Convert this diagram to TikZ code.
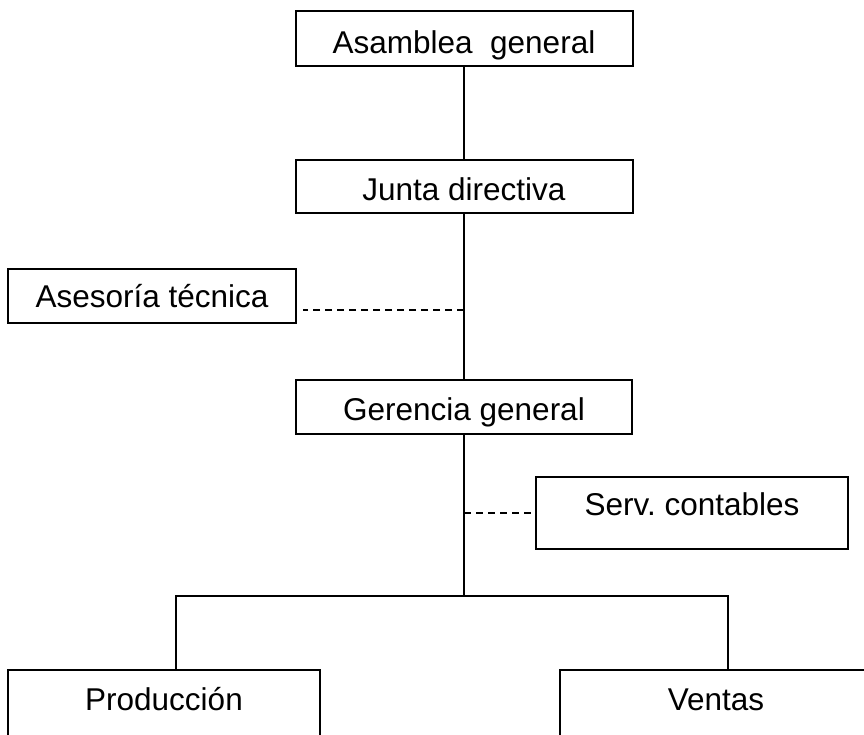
\documentclass[tikz,border=0pt]{standalone}
\usepackage{fontspec}
\setmainfont{Liberation Sans}
\usetikzlibrary{calc}
\tikzset{%
	caja/.style     = {draw, rectangle, line width=2pt, inner sep=0pt, text depth=0pt, text centered, font=\fontsize{31.5}{36}\selectfont},
	linea/.style    = {line width=2pt},
	punteada/.style = {line width=1.5pt, dash pattern=on 7pt off 5pt},
}
\begin{document}
\begin{tikzpicture}[x=1pt,y=-1pt]
	\clip (0,0) rectangle (864,734);
	\fill[white] (0,0) rectangle (864,734);
	
	\node[caja, minimum width=337pt, minimum height=55pt, text height=29pt] (asamblea) at (464,38.5) {Asamblea\ \ general};
	\node[caja, minimum width=337pt, minimum height=53pt, text height=27pt] (junta) at (464,186.5) {Junta directiva};
	\node[caja, minimum width=288pt, minimum height=54pt, text height=22pt] (asesoria) at (152,296) {Asesoría técnica};
	\node[caja, minimum width=336pt, minimum height=54pt, text height=26pt] (gerencia) at (464,407) {Gerencia general};
	\node[caja, minimum width=312pt, minimum height=72pt, text height=4pt] (servicios) at (692,513) {Serv.\ contables};
	\node[caja, minimum width=312pt, minimum height=80pt, text height=0pt] (produccion) at (164,710) {Producción};
	\node[caja, minimum width=312pt, minimum height=80pt, text height=0pt] (ventas) at (716,710) {Ventas};
	
	\coordinate (asesor) at (464,310);
	\coordinate (contab) at (464,513);
	\coordinate (rama) at (464,596);
	
	\draw[linea] (asamblea) -- (junta);
	\draw[linea] (junta) -- (gerencia);
	\draw[punteada] (asesor) -- ($(asesoria.east |- asesor)+(6,0)$);
	\draw[punteada] (contab) -- (servicios);
	\draw[linea] (gerencia) -- (rama);
	\draw[linea] (rama) -| ([xshift=12pt]produccion.north);
	\draw[linea] (rama) -| ([xshift=12pt]ventas.north);
\end{tikzpicture}
\end{document}
